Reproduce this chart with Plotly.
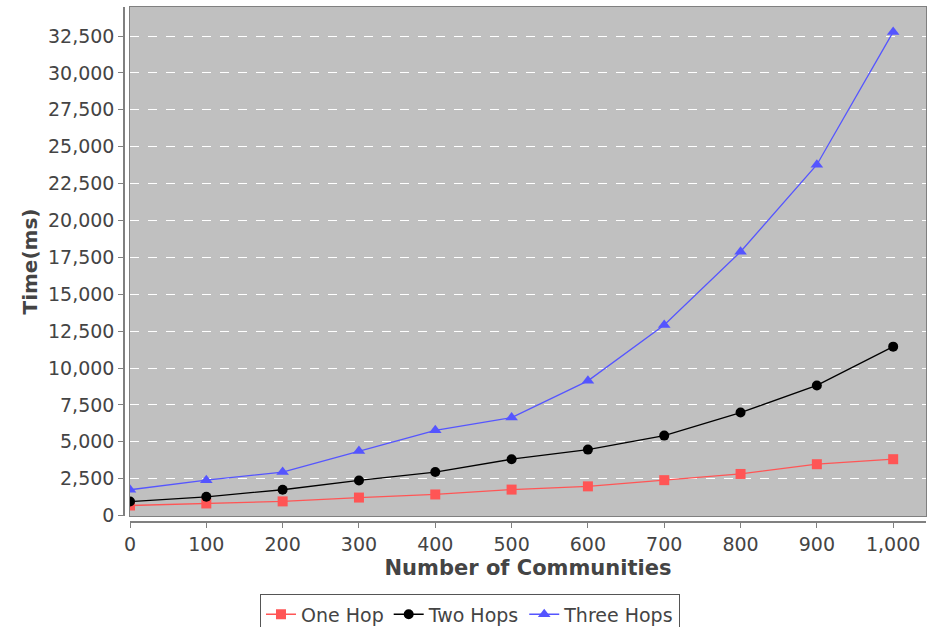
import plotly.graph_objects as go

communities = [0, 100, 200, 300, 400, 500, 600, 700, 800, 900, 1000]
one_hop = [680, 820, 960, 1220, 1430, 1760, 1980, 2400, 2820, 3480, 3820]
two_hops = [950, 1270, 1750, 2380, 2950, 3820, 4470, 5420, 6980, 8820, 11450]
three_hops = [1750, 2400, 2950, 4380, 5780, 6640, 9130, 12920, 17880, 23780, 32780]

x_ticks = list(range(0, 1001, 100))
y_ticks = list(range(0, 32501, 2500))

X_RANGE = [0, 1043]
Y_RANGE = [-30, 34470]

FONT = "DejaVu Sans"
TXT = "#444444"

fig = go.Figure()
fig.add_trace(go.Scatter(x=communities, y=one_hop, name="One Hop", mode="lines+markers",
                         line=dict(color="#ff5555", width=1.3),
                         marker=dict(symbol="square", size=10, color="#ff5555")))
fig.add_trace(go.Scatter(x=communities, y=two_hops, name="Two Hops", mode="lines+markers",
                         line=dict(color="#000000", width=1.3),
                         marker=dict(symbol="circle", size=10, color="#000000")))
fig.add_trace(go.Scatter(x=communities, y=three_hops, name="Three Hops", mode="lines+markers",
                         line=dict(color="#5555ff", width=1.3),
                         marker=dict(symbol="triangle-up", size=11, color="#5555ff")))

fig.update_layout(
    width=927, height=627,
    margin=dict(l=124, r=1, t=7, b=105, autoexpand=False),
    paper_bgcolor="white",
    plot_bgcolor="#c0c0c0",
    font=dict(family=FONT, color=TXT, size=18),
    showlegend=True,
    legend=dict(orientation="h", xref="container", yref="container", x=0.507, y=0.052,
                xanchor="center", yanchor="top", bordercolor="#555555", borderwidth=1,
                font=dict(size=19, color=TXT), bgcolor="white", itemwidth=30,
                tracegroupgap=0),
    xaxis=dict(domain=[6 / 802, 1], range=X_RANGE, showgrid=False, zeroline=False,
               showticklabels=False, ticks="", showline=True, mirror=True,
               linecolor="#808080", linewidth=1, automargin=False),
    yaxis=dict(domain=[6 / 515, 1], range=Y_RANGE, showgrid=True, gridcolor="white",
               griddash="dash", gridwidth=1, tickvals=y_ticks, zeroline=False,
               showticklabels=False, ticks="", showline=True, mirror=True,
               linecolor="#808080", linewidth=1, automargin=False),
    xaxis2=dict(overlaying="x", anchor="free", position=0, range=X_RANGE,
                tickvals=x_ticks, tickformat=",d", showgrid=False, zeroline=False,
                showline=True, linecolor="#808080", linewidth=1.5,
                ticks="outside", ticklen=5, tickcolor="#808080",
                tickfont=dict(size=19, color=TXT), automargin=False,
                title=dict(text="<b>Number of Communities</b>", font=dict(size=21, color=TXT),
                           standoff=6)),
    yaxis2=dict(overlaying="y", anchor="free", position=0, range=Y_RANGE,
                tickvals=y_ticks, tickformat=",d", showgrid=False, zeroline=False,
                showline=True, linecolor="#808080", linewidth=1.5,
                ticks="outside", ticklen=5, tickcolor="#808080",
                tickfont=dict(size=19, color=TXT), automargin=False,
                title=dict(text="<b>Time(ms)</b>", font=dict(size=20, color=TXT),
                           standoff=4)),
)

fig.add_trace(go.Scatter(x=[None], y=[None], xaxis="x2", yaxis="y2", showlegend=False,
                         hoverinfo="skip"))

fig.write_html("out.html", config={"displayModeBar": False},
               post_script="document.body.style.margin='0';document.body.style.overflow='hidden';")
